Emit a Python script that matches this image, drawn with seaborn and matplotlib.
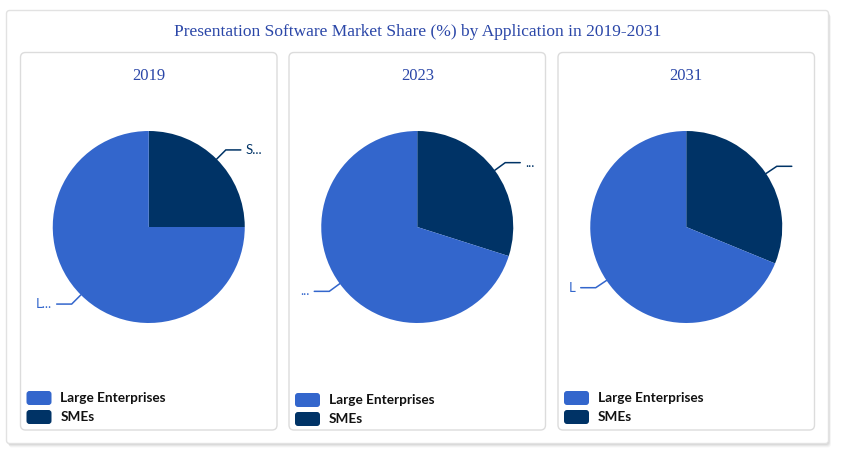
import matplotlib
matplotlib.use("Agg")
import matplotlib.pyplot as plt
import seaborn as sns
import numpy as np
from matplotlib.patches import FancyBboxPatch

# ---------------- data ----------------
years = ["2019", "2023", "2031"]
categories = ["SMEs", "Large Enterprises"]          # clockwise from top
smes_share = [25.0, 29.9, 31.2]
large_share = [75.0, 70.1, 68.8]
legend_order = ["Large Enterprises", "SMEs"]
shown_labels = [["S...", "L..."], ["...", "..."], ["", "L"]]
title = "Presentation Software Market Share (%) by Application in 2019-2031"

sns.set_theme(style="white")
plt.rcParams['font.family'] = ['Lato', 'DejaVu Sans']

colors = {"Large Enterprises": "#3366cc", "SMEs": "#003366"}
title_color = "#2b47a8"

W, H = 843, 457
fig = plt.figure(figsize=(W / 100, H / 100), dpi=100)
fig.patch.set_facecolor("white")

bg = fig.add_axes([0, 0, 1, 1])
bg.set_xlim(0, W)
bg.set_ylim(H, 0)
bg.axis("off")

# outer card with soft shadow
for i, a in enumerate([0.05, 0.05, 0.04, 0.03]):
    off = 1 + i
    bg.add_patch(FancyBboxPatch((6.5 + off * 0.6, 10.5 + off), 822, 433,
                                boxstyle="round,pad=0,rounding_size=3",
                                fc="black", ec="none", alpha=a, zorder=0))
bg.add_patch(FancyBboxPatch((6.5, 10.5), 822, 433,
                            boxstyle="round,pad=0,rounding_size=3",
                            fc="white", ec="#e2e2e2", lw=1, zorder=1))

bg.text(418, 32, title, ha="center", va="center", fontsize=12.5,
        color=title_color, family=["Liberation Serif", "DejaVu Serif"], zorder=5)

panel_left = [20.5, 289, 558]
panel_w = 256.5
legend_y = [398, 400, 398]

R = 96.0
for k, yr in enumerate(years):
    px = panel_left[k]
    bg.add_patch(FancyBboxPatch((px, 52.5), panel_w, 377.5,
                                boxstyle="round,pad=0,rounding_size=5",
                                fc="white", ec="#dcdcdc", lw=1, zorder=2))
    cx = px + panel_w / 2
    bg.text(cx, 76.5, yr, ha="center", va="center", fontsize=12,
            color=title_color, family=["Liberation Serif", "DejaVu Serif"], zorder=5)

    # pie
    cy = 227
    ax = fig.add_axes([(cx - R) / W, (H - cy - R) / H, 2 * R / W, 2 * R / H])
    vals = [smes_share[k], large_share[k]]
    cols = [colors[c] for c in categories]
    ax.pie(vals, colors=cols, startangle=90, counterclock=False, radius=1,
           wedgeprops=dict(linewidth=0))
    ax.set_xlim(-1, 1)
    ax.set_ylim(-1, 1)
    ax.axis("off")

    # connectors + truncated data labels
    total = sum(vals)
    start = 90.0
    for j, v in enumerate(vals):
        sweep = 360.0 * v / total
        mid = np.deg2rad(start - sweep / 2)
        start -= sweep
        c, s = np.cos(mid), np.sin(mid)
        e1 = (c, s)
        e2 = ((1 + 13 / R) * c, (1 + 13 / R) * s)
        sign = 1 if c >= 0 else -1
        e3 = (e2[0] + sign * 15 / R, e2[1])
        col = cols[j]
        ax.plot([e1[0], e2[0], e3[0]], [e1[1], e2[1], e3[1]], color=col,
                lw=1.1, clip_on=False, solid_joinstyle="miter")
        lab = shown_labels[k][j]
        if lab:
            ax.text(e3[0] + sign * 5 / R, e3[1], lab, ha="left" if sign > 0 else "right",
                    va="center", fontsize=9.5, color=col, clip_on=False)

    # legend
    ly = legend_y[k]
    for i, cat in enumerate(legend_order):
        yy = ly + i * 19
        bg.add_patch(FancyBboxPatch((px + 6, yy - 7), 25, 14,
                                    boxstyle="round,pad=0,rounding_size=3",
                                    fc=colors[cat], ec="none", zorder=5))
        bg.text(px + 40, yy, cat, ha="left", va="center", fontsize=9.8,
                fontweight="bold", color="#111111", zorder=5)

fig.savefig("out.png", dpi=100, facecolor="white")
